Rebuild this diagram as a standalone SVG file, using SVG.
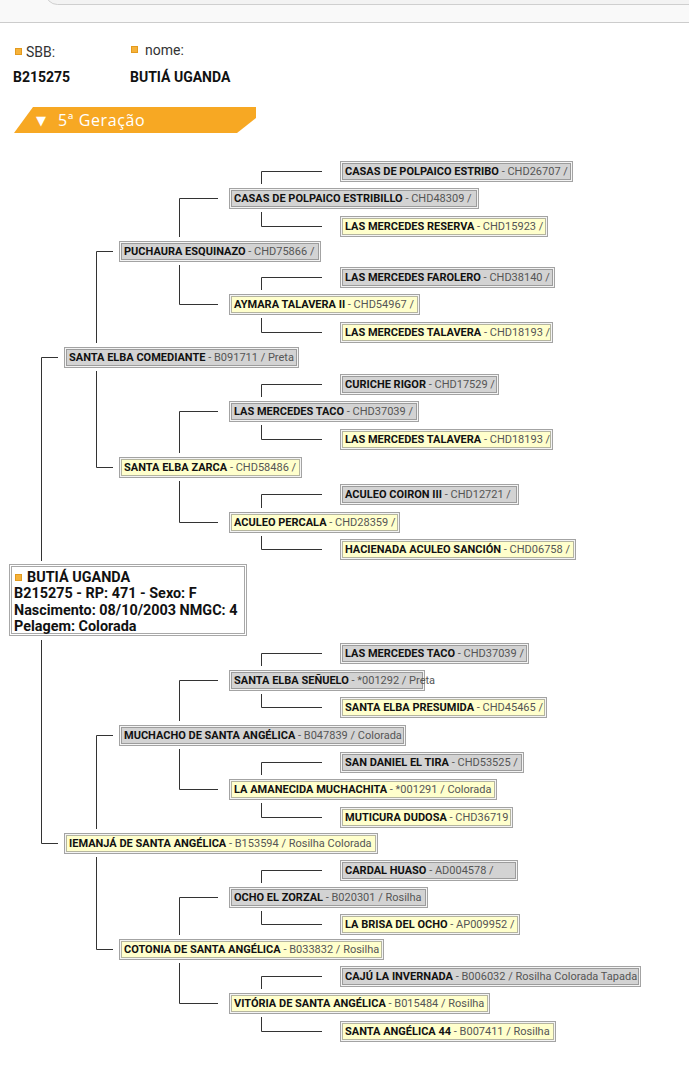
<svg xmlns="http://www.w3.org/2000/svg" width="689" height="1083" viewBox="0 0 689 1083">
<style>
.t{font-family:Roboto,"Liberation Sans",sans-serif;font-size:11px;font-weight:bold;fill:#111}
.d{font-weight:normal;fill:#555}
.o{fill:#f4f4f4;stroke:#a3a3a3;stroke-width:1}
.ig{fill:#d3d3d3;stroke:#9c9c9c;stroke-width:1}
.iy{fill:#ffffcc;stroke:#b5b5a0;stroke-width:1}
.c{fill:none;stroke:#333;stroke-width:1}
.h{font-family:Roboto,"Liberation Sans",sans-serif;font-size:14px;fill:#333}
.hb{font-family:Roboto,"Liberation Sans",sans-serif;font-size:14px;font-weight:bold;fill:#111}
.sq{fill:#f6b23a;stroke:#e39a1e;stroke-width:1}
.r{font-family:Roboto,"Liberation Sans",sans-serif;font-size:14.4px;font-weight:bold;fill:#111}
</style>
<rect x="0" y="0" width="689" height="1083" fill="#fff"/>
<g id="topbar">
<rect x="0" y="0" width="689" height="22" fill="#f9f9f9"/>
<rect x="45.5" y="-30" width="700" height="34.5" rx="12" fill="#f3f3f3" stroke="#cfcfcf"/>
<line x1="0" y1="22.5" x2="689" y2="22.5" stroke="#cccccc"/>
</g>
<g id="header">
<rect class="sq" x="15.5" y="48.5" width="6" height="6"/>
<text class="h" x="26" y="57">SBB:</text>
<rect class="sq" x="131.5" y="46.5" width="6" height="6"/>
<text class="h" x="145" y="55">nome:</text>
<text class="hb" x="13" y="82">B215275</text>
<text class="hb" x="130" y="82">BUTIÁ UGANDA</text>
</g>
<g id="banner">
<polygon points="33,107 256,107 256,118 237,133 14,133" fill="#f7a823"/>
<text x="36" y="125" font-family="'Open Sans','DejaVu Sans',sans-serif" font-size="13px" fill="#fff">▼</text>
<text x="58" y="125.5" font-family="'Open Sans','DejaVu Sans',sans-serif" font-size="16px" letter-spacing="0.6" fill="#fff">5ª Geração</text>
</g>
<g id="connectors">
<path class="c" d="M41.5,561 V357.5 H58 M41.5,640 V843.5 H58"/>
<path class="c" d="M96.5,343 V251.5 H113 M96.5,371 V467.5 H113 M96.5,829 V735.5 H113 M96.5,857 V949.5 H113"/>
<path class="c" d="M179.5,237 V198.5 H218 M179.5,265 V304.5 H218 M179.5,453 V411.5 H218 M179.5,481 V522.5 H218 M179.5,721 V680.5 H218 M179.5,749 V789.5 H218 M179.5,935 V897.5 H218 M179.5,963 V1003.5 H218"/>
<path class="c" d="M261.5,184 V171.5 H322 M261.5,212 V226.5 H322 M261.5,290 V277.5 H322 M261.5,318 V332.5 H322 M261.5,397 V384.5 H322 M261.5,425 V439.5 H322 M261.5,508 V494.5 H322 M261.5,536 V549.5 H322 M261.5,666 V653.5 H322 M261.5,694 V707.5 H322 M261.5,775 V762.5 H322 M261.5,803 V817.5 H322 M261.5,883 V870.5 H322 M261.5,911 V924.5 H322 M261.5,989 V976.5 H322 M261.5,1017 V1031.5 H322"/>
</g>
<g id="root">
<rect x="9.5" y="564.5" width="237" height="71" fill="#fff" stroke="#a8a8a8"/>
<rect x="11.5" y="566.5" width="233" height="67" fill="#fff" stroke="#a8a8a8"/>
<rect class="sq" x="15.5" y="574.5" width="6" height="6"/>
<text class="r" x="27" y="582">BUTIÁ UGANDA</text>
<text class="r" x="14" y="598">B215275 - RP: 471 - Sexo: F</text>
<text class="r" x="14" y="615">Nascimento: 08/10/2003 NMGC: 4</text>
<text class="r" x="14" y="631">Pelagem: Colorada</text>
</g>
<g id="n1a"><rect class="o" x="64.5" y="347.5" width="234" height="20"/><rect class="ig" x="66.5" y="349.5" width="230" height="16"/><text class="t" x="69" y="361">SANTA ELBA COMEDIANTE<tspan class="d"> - B091711 / Preta</tspan></text></g>
<g id="n1b"><rect class="o" x="64.5" y="833.5" width="313" height="20"/><rect class="iy" x="66.5" y="835.5" width="309" height="16"/><text class="t" x="69" y="847">IEMANJÁ DE SANTA ANGÉLICA<tspan class="d"> - B153594 / Rosilha Colorada</tspan></text></g>
<g id="n2a"><rect class="o" x="119.5" y="241.5" width="201" height="20"/><rect class="ig" x="121.5" y="243.5" width="197" height="16"/><text class="t" x="124" y="255">PUCHAURA ESQUINAZO<tspan class="d"> - CHD75866 /</tspan></text></g>
<g id="n2b"><rect class="o" x="119.5" y="457.5" width="182" height="20"/><rect class="iy" x="121.5" y="459.5" width="178" height="16"/><text class="t" x="124" y="471">SANTA ELBA ZARCA<tspan class="d"> - CHD58486 /</tspan></text></g>
<g id="n2c"><rect class="o" x="119.5" y="725.5" width="286" height="20"/><rect class="ig" x="121.5" y="727.5" width="282" height="16"/><text class="t" x="124" y="739">MUCHACHO DE SANTA ANGÉLICA<tspan class="d"> - B047839 / Colorada</tspan></text></g>
<g id="n2d"><rect class="o" x="119.5" y="939.5" width="264" height="20"/><rect class="iy" x="121.5" y="941.5" width="260" height="16"/><text class="t" x="124" y="953">COTONIA DE SANTA ANGÉLICA<tspan class="d"> - B033832 / Rosilha</tspan></text></g>
<g id="n3a"><rect class="o" x="229.5" y="188.5" width="249" height="20"/><rect class="ig" x="231.5" y="190.5" width="245" height="16"/><text class="t" x="234" y="202">CASAS DE POLPAICO ESTRIBILLO<tspan class="d"> - CHD48309 /</tspan></text></g>
<g id="n3b"><rect class="o" x="229.5" y="294.5" width="190" height="20"/><rect class="iy" x="231.5" y="296.5" width="186" height="16"/><text class="t" x="234" y="308">AYMARA TALAVERA II<tspan class="d"> - CHD54967 /</tspan></text></g>
<g id="n3c"><rect class="o" x="229.5" y="401.5" width="189" height="20"/><rect class="ig" x="231.5" y="403.5" width="185" height="16"/><text class="t" x="234" y="415">LAS MERCEDES TACO<tspan class="d"> - CHD37039 /</tspan></text></g>
<g id="n3d"><rect class="o" x="229.5" y="512.5" width="170" height="20"/><rect class="iy" x="231.5" y="514.5" width="166" height="16"/><text class="t" x="234" y="526">ACULEO PERCALA<tspan class="d"> - CHD28359 /</tspan></text></g>
<g id="n3e"><rect class="o" x="229.5" y="670.5" width="195" height="20"/><rect class="ig" x="231.5" y="672.5" width="191" height="16"/><text class="t" x="234" y="684">SANTA ELBA SEÑUELO<tspan class="d"> - *001292 / Preta</tspan></text></g>
<g id="n3f"><rect class="o" x="229.5" y="779.5" width="267" height="20"/><rect class="iy" x="231.5" y="781.5" width="263" height="16"/><text class="t" x="234" y="793">LA AMANECIDA MUCHACHITA<tspan class="d"> - *001291 / Colorada</tspan></text></g>
<g id="n3g"><rect class="o" x="229.5" y="887.5" width="198" height="20"/><rect class="ig" x="231.5" y="889.5" width="194" height="16"/><text class="t" x="234" y="901">OCHO EL ZORZAL<tspan class="d"> - B020301 / Rosilha</tspan></text></g>
<g id="n3h"><rect class="o" x="229.5" y="993.5" width="260" height="20"/><rect class="iy" x="231.5" y="995.5" width="256" height="16"/><text class="t" x="234" y="1007">VITÓRIA DE SANTA ANGÉLICA<tspan class="d"> - B015484 / Rosilha</tspan></text></g>
<g id="n4a"><rect class="o" x="340.5" y="161.5" width="232" height="20"/><rect class="ig" x="342.5" y="163.5" width="228" height="16"/><text class="t" x="345" y="175">CASAS DE POLPAICO ESTRIBO<tspan class="d"> - CHD26707 /</tspan></text></g>
<g id="n4b"><rect class="o" x="340.5" y="216.5" width="207" height="20"/><rect class="iy" x="342.5" y="218.5" width="203" height="16"/><text class="t" x="345" y="230">LAS MERCEDES RESERVA<tspan class="d"> - CHD15923 /</tspan></text></g>
<g id="n4c"><rect class="o" x="340.5" y="267.5" width="214" height="20"/><rect class="ig" x="342.5" y="269.5" width="210" height="16"/><text class="t" x="345" y="281">LAS MERCEDES FAROLERO<tspan class="d"> - CHD38140 /</tspan></text></g>
<g id="n4d"><rect class="o" x="340.5" y="322.5" width="212" height="20"/><rect class="iy" x="342.5" y="324.5" width="208" height="16"/><text class="t" x="345" y="336">LAS MERCEDES TALAVERA<tspan class="d"> - CHD18193 /</tspan></text></g>
<g id="n4e"><rect class="o" x="340.5" y="374.5" width="158" height="20"/><rect class="ig" x="342.5" y="376.5" width="154" height="16"/><text class="t" x="345" y="388">CURICHE RIGOR<tspan class="d"> - CHD17529 /</tspan></text></g>
<g id="n4f"><rect class="o" x="340.5" y="429.5" width="212" height="20"/><rect class="iy" x="342.5" y="431.5" width="208" height="16"/><text class="t" x="345" y="443">LAS MERCEDES TALAVERA<tspan class="d"> - CHD18193 /</tspan></text></g>
<g id="n4g"><rect class="o" x="340.5" y="484.5" width="178" height="20"/><rect class="ig" x="342.5" y="486.5" width="174" height="16"/><text class="t" x="345" y="498">ACULEO COIRON III<tspan class="d"> - CHD12721 /</tspan></text></g>
<g id="n4h"><rect class="o" x="340.5" y="539.5" width="235" height="20"/><rect class="iy" x="342.5" y="541.5" width="231" height="16"/><text class="t" x="345" y="553">HACIENADA ACULEO SANCIÓN<tspan class="d"> - CHD06758 /</tspan></text></g>
<g id="n4i"><rect class="o" x="340.5" y="643.5" width="188" height="20"/><rect class="ig" x="342.5" y="645.5" width="184" height="16"/><text class="t" x="345" y="657">LAS MERCEDES TACO<tspan class="d"> - CHD37039 /</tspan></text></g>
<g id="n4j"><rect class="o" x="340.5" y="697.5" width="206" height="20"/><rect class="iy" x="342.5" y="699.5" width="202" height="16"/><text class="t" x="345" y="711">SANTA ELBA PRESUMIDA<tspan class="d"> - CHD45465 /</tspan></text></g>
<g id="n4k"><rect class="o" x="340.5" y="752.5" width="183" height="20"/><rect class="ig" x="342.5" y="754.5" width="179" height="16"/><text class="t" x="345" y="766">SAN DANIEL EL TIRA<tspan class="d"> - CHD53525 /</tspan></text></g>
<g id="n4l"><rect class="o" x="340.5" y="807.5" width="172" height="20"/><rect class="iy" x="342.5" y="809.5" width="168" height="16"/><text class="t" x="345" y="821">MUTICURA DUDOSA<tspan class="d"> - CHD36719</tspan></text></g>
<g id="n4m"><rect class="o" x="340.5" y="860.5" width="177" height="20"/><rect class="ig" x="342.5" y="862.5" width="173" height="16"/><text class="t" x="345" y="874">CARDAL HUASO<tspan class="d"> - AD004578 /</tspan></text></g>
<g id="n4n"><rect class="o" x="340.5" y="914.5" width="179" height="20"/><rect class="iy" x="342.5" y="916.5" width="175" height="16"/><text class="t" x="345" y="928">LA BRISA DEL OCHO<tspan class="d"> - AP009952 /</tspan></text></g>
<g id="n4o"><rect class="o" x="340.5" y="966.5" width="300" height="20"/><rect class="ig" x="342.5" y="968.5" width="296" height="16"/><text class="t" x="345" y="980">CAJÚ LA INVERNADA<tspan class="d"> - B006032 / Rosilha Colorada Tapada</tspan></text></g>
<g id="n4p"><rect class="o" x="340.5" y="1021.5" width="215" height="20"/><rect class="iy" x="342.5" y="1023.5" width="211" height="16"/><text class="t" x="345" y="1035">SANTA ANGÉLICA 44<tspan class="d"> - B007411 / Rosilha</tspan></text></g>
</svg>
